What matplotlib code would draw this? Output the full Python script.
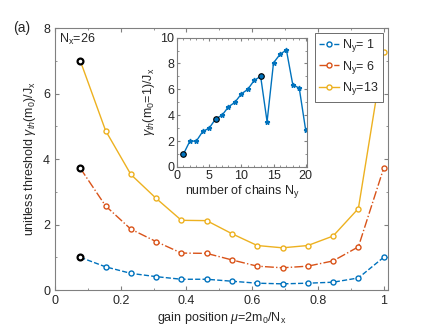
import numpy as np
import matplotlib.pyplot as plt
from matplotlib.ticker import MultipleLocator

# gain position mu = 2 m0 / Nx, Nx = 26
m0 = np.arange(1, 14)
mu = 2 * m0 / 26

gamma_ny1 = [1.0, 0.71, 0.51, 0.41, 0.33, 0.33, 0.27, 0.21, 0.19, 0.21, 0.24, 0.37, 1.0]
gamma_ny6 = [3.72, 2.57, 1.86, 1.48, 1.13, 1.12, 0.92, 0.73, 0.68, 0.73, 0.89, 1.32, 3.72]
gamma_ny13 = [7.0, 4.87, 3.53, 2.80, 2.13, 2.12, 1.72, 1.36, 1.29, 1.36, 1.65, 2.49, 7.26]

# inset: threshold at m0=1 vs number of chains
chains = np.arange(1, 21)
gamma_m1 = [1.0, 2.0, 2.0, 2.75, 3.0, 3.72, 4.0, 4.65, 5.0, 5.65, 6.0, 6.7, 7.0,
            3.5, 8.05, 8.7, 9.05, 6.35, 6.1, 2.85]
highlight = [1, 6, 13]

BLUE = '#0072BD'
RED = '#D95319'
YELLOW = '#EDB120'
TXT = '#262626'

plt.rcParams['font.family'] = 'Liberation Sans'
plt.rcParams['font.size'] = 9
plt.rcParams['text.color'] = TXT
plt.rcParams['axes.edgecolor'] = '#808080'
plt.rcParams['xtick.color'] = '#808080'
plt.rcParams['ytick.color'] = '#808080'
plt.rcParams['xtick.labelcolor'] = TXT
plt.rcParams['ytick.labelcolor'] = TXT
plt.rcParams['mathtext.fontset'] = 'custom'
plt.rcParams['mathtext.rm'] = 'Liberation Sans'
plt.rcParams['mathtext.it'] = 'Liberation Sans:italic'

fig = plt.figure(figsize=(4.28, 3.30), dpi=100)
ax = fig.add_axes([0.1285, 0.121, 0.7775, 0.794])

ax.plot(mu, gamma_ny1, '--', color=BLUE, lw=1, marker='o', ms=3.6,
        mfc='white', mec=BLUE, mew=1, label='N$_\\mathrm{y}$= 1')
ax.plot(mu, gamma_ny6, '-.', color=RED, lw=1, marker='o', ms=3.6,
        mfc='white', mec=RED, mew=1, label='N$_\\mathrm{y}$= 6')
ax.plot(mu, gamma_ny13, '-', color=YELLOW, lw=1, marker='o', ms=3.6,
        mfc='white', mec=YELLOW, mew=1, label='N$_\\mathrm{y}$=13')
for vals in [gamma_ny1, gamma_ny6, gamma_ny13]:
    ax.plot(mu[0], vals[0], 'o', ms=4.2, mfc='white', mec='black', mew=1.6, zorder=5)

ax.set_xlim(0, 1.0125)
ax.set_ylim(0, 8)
ax.xaxis.set_minor_locator(MultipleLocator(0.1))
ax.yaxis.set_major_locator(MultipleLocator(2))
ax.yaxis.set_minor_locator(MultipleLocator(1))
ax.set_xticks([0, 0.2, 0.4, 0.6, 0.8, 1])
ax.set_xticklabels(['0', '0.2', '0.4', '0.6', '0.8', '1'])
ax.tick_params(which='both', direction='in', top=True, right=True, labelsize=9)
ax.tick_params(which='major', length=3)
ax.tick_params(which='minor', length=1.5)
ax.set_xlabel('gain position $\\mu$=2m$_0$/N$_\\mathrm{x}$', color=TXT, labelpad=2)
ax.set_ylabel('unitless threshold $\\gamma_{th}$(m$_0$)/J$_\\mathrm{x}$', color=TXT, labelpad=4)
ax.text(0.012, 0.985, 'N$_\\mathrm{x}$=26', transform=ax.transAxes, va='top', ha='left')
fig.text(0.03, 0.915, '(a)', fontsize=10, va='center')

leg = ax.legend(loc='upper right', fontsize=9, handlelength=1.6, handletextpad=0.2,
                borderpad=0.35, labelspacing=0.35, fancybox=False, framealpha=1,
                borderaxespad=0.4)
leg.get_frame().set_edgecolor('#555555')
leg.get_frame().set_linewidth(0.6)

ins = fig.add_axes([0.4136, 0.494, 0.3036, 0.392])
ins.plot(chains, gamma_m1, '-', color=BLUE, lw=1, marker='*', ms=3.5)
hi = [c - 1 for c in highlight]
ins.plot(chains[hi], np.array(gamma_m1)[hi], 'o', ms=4, mfc=BLUE, mec='black', mew=0.8)
ins.set_xlim(0, 20.2)
ins.set_ylim(0, 10)
ins.xaxis.set_major_locator(MultipleLocator(5))
ins.xaxis.set_minor_locator(MultipleLocator(1))
ins.yaxis.set_major_locator(MultipleLocator(2))
ins.yaxis.set_minor_locator(MultipleLocator(1))
ins.tick_params(which='both', direction='in', top=True, right=True, labelsize=9, pad=2)
ins.tick_params(which='major', length=2.5)
ins.tick_params(which='minor', length=1.2)
ins.set_xlabel('number of chains N$_\\mathrm{y}$', color=TXT, labelpad=1)
ins.set_ylabel('$\\gamma_{th}$(m$_0$=1)/J$_\\mathrm{x}$', color=TXT, labelpad=2)

fig.savefig('out.png', dpi=100)
